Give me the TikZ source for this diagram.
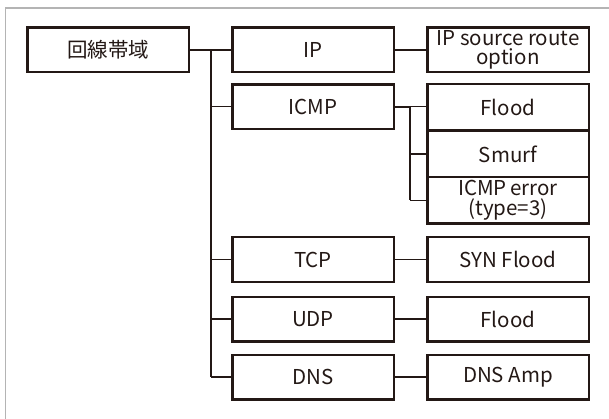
\documentclass[tikz,border=0pt]{standalone}
\usepackage{fontspec}
\setmainfont{Noto Sans CJK JP}
\definecolor{ink}{HTML}{231815}
\definecolor{framegray}{HTML}{B4B4B4}
\begin{document}
\begin{tikzpicture}[x=1pt,y=-1pt,
  box/.style={draw=ink, line width=2.5pt, inner sep=0pt,
    minimum width=161.5pt, minimum height=44.5pt, align=center,
    text=ink, font=\fontsize{20.5}{19.5}\selectfont},
  stackbox/.style={box, minimum height=46.5pt},
  trunk/.style={draw=ink, line width=1.9pt},
  branch/.style={draw=ink, line width=1.2pt}]
\useasboundingbox (0,0) rectangle (609,419);
% outer frame (runs off the right and bottom edges)
\begin{scope}
  \clip (0,0) rectangle (609,419);
  \draw[framegray, line width=1.4pt] (5.5,430) -- (5.5,8) -- (620,8);
\end{scope}

% root and first level
\node[box] (root) at (108,50) {回線帯域};
\node[box] (ip)   at (313,50) {IP};
\node[box] (icmp) at (313,106.75) {ICMP};
\node[box] (tcp)  at (313,259.5) {TCP};
\node[box] (udp)  at (313,319) {UDP};
\node[box] (dns)  at (313,377) {DNS};

% second level
\node[box] (ipsr)   at (508,50) {IP source route\\option};
\node[stackbox] (flood1) at (508,107.5) {Flood};
\node[stackbox] (smurf)  at (508,154) {Smurf};
\node[stackbox] (icmperr) at (508,200.5) {ICMP\,error\\(type=3)};
\node[box] (syn)    at (508,259.5) {SYN Flood};
\node[box] (flood2) at (508,319) {Flood};
\node[box] (dnsamp) at (508,377) {DNS Amp};

% main tree
\coordinate (j1) at (211,50);
\draw[trunk] (root.east) -- (j1);
\draw[trunk] (j1) -- (j1 |- dns.west);
\draw[branch] (j1) -- (ip.west);
\draw[branch] (j1 |- icmp.west) -- (icmp.west);
\draw[branch] (j1 |- tcp.west) -- (tcp.west);
\draw[branch] (j1 |- udp.west) -- (udp.west);
\draw[branch] (j1 |- dns.west) -- (dns.west);

% ICMP sub-tree
\coordinate (j2) at (410,106.75);
\draw[trunk] (icmp.east) -- (j2);
\draw[trunk] (j2) -- (j2 |- icmperr.west);
\draw[branch] (j2) -- (flood1.west |- j2);
\draw[branch] (j2 |- smurf.west) -- (smurf.west);
\draw[branch] (j2 |- icmperr.west) -- (icmperr.west);

% leaf links
\draw[branch] (ip.east) -- (ipsr.west);
\draw[branch] (tcp.east) -- (syn.west);
\draw[branch] (udp.east) -- (flood2.west);
\draw[branch] (dns.east) -- (dnsamp.west);
\end{tikzpicture}
\end{document}
